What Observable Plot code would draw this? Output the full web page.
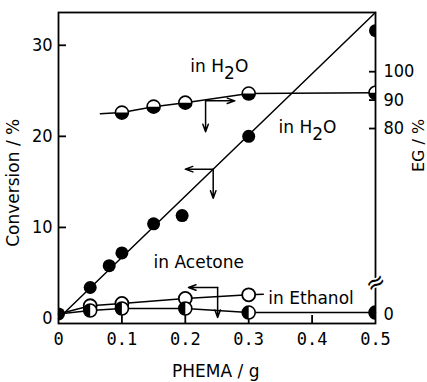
<!DOCTYPE html>
<html><head><meta charset="utf-8">
<script src="https://cdn.jsdelivr.net/npm/d3@7"></script>
<script src="https://cdn.jsdelivr.net/npm/@observablehq/plot@0.6"></script>
<style>
body{margin:0;background:#fff;}
</style>
</head><body><div id="chart"></div>
<script>
// ---- data ----
const xTicks = [0, 0.1, 0.2, 0.3, 0.4, 0.5];
const convTicks = [0, 10, 20, 30];
const egTicks = [0, 80, 90, 100];

// Conversion in H2O (filled circles)
const phemaH2O = [0, 0.05, 0.08, 0.1, 0.15, 0.195, 0.3, 0.5];
const convH2O  = [0.5, 3.4, 5.8, 7.2, 10.4, 11.3, 20.0, 31.6];
// fitted straight line
const fitPhema = [0, 0.5];
const fitConv  = [0, 33.6];

// EG in H2O (top-open / bottom-filled circles), right axis
const phemaEG = [0.1, 0.15, 0.2, 0.3, 0.5];
const egH2O   = [85.6, 87.7, 89.1, 92.3, 92.6];
const egLinePhema = [0.066, 0.1, 0.15, 0.2, 0.3, 0.5];
const egLineValue = [85.2, 85.6, 87.7, 89.1, 92.3, 92.6];

// Conversion in Ethanol (open circles)
const phemaEtOH = [0.05, 0.1, 0.2, 0.3];
const convEtOH  = [1.4, 1.65, 2.2, 2.6];
const etohLinePhema = [0, 0.05, 0.1, 0.2, 0.3, 0.323];
const etohLineConv  = [0.5, 1.4, 1.65, 2.2, 2.6, 2.65];

// Conversion in Acetone (left-filled circles)
const phemaAc = [0.05, 0.1, 0.2, 0.3, 0.5];
const convAc  = [0.88, 1.1, 1.1, 0.65, 0.65];
const acLinePhema = [0, 0.05, 0.1, 0.2, 0.3, 0.5];
const acLineConv  = [0.5, 0.88, 1.1, 1.1, 0.65, 0.65];

// curve labels
const labelText  = ["in H2O", "in H2O", "in Acetone", "in Ethanol"];
const labelPhema = [0.208, 0.347, 0.150, 0.331];
const labelConv  = [27.7, 21.0, 6.15, 2.2];

// axis indicator arrows (corner -> tip)
const arrowX1 = [0.232, 0.232, 0.244, 0.244, 0.251, 0.251];
const arrowY1 = [23.9, 23.9, 16.4, 16.4, 3.4, 3.4];
const arrowX2 = [0.278, 0.232, 0.200, 0.244, 0.205, 0.251];
const arrowY2 = [23.9, 20.5, 16.4, 13.2, 3.4, 0.1];

// axis titles
const titleText  = ["Conversion / %", "EG / %", "PHEMA / g"];
const titlePhema = [-0.071, 0.568, 0.248];
const titleConv  = [14.9, 19.0, -5.8];
const titleRotate = [-90, -90, 0];
const titleSize = [17, 16, 17];

// broken right axis: EG value -> position on conversion scale
function egToY(v) { return v < 50 ? 0.5 + v * 0.01 : 20.86 + (v - 80) * 0.312; }
const egLabel = new Map(egTicks.map(v => [egToY(v), String(v)]));

// ---- tables ----
const zip = (xs, ys) => xs.map((x, i) => ({x, y: ys[i]}));
const dH2O = zip(phemaH2O, convH2O);
const dFit = zip(fitPhema, fitConv);
const dEG = phemaEG.map((x, i) => ({x, y: egToY(egH2O[i])}));
const dEGLine = egLinePhema.map((x, i) => ({x, y: egToY(egLineValue[i])}));
const dEt = zip(phemaEtOH, convEtOH);
const dEtLine = zip(etohLinePhema, etohLineConv);
const dAc = zip(phemaAc, convAc);
const dAcLine = zip(acLinePhema, acLineConv);
const dLabels = labelText.map((t, i) => ({t, x: labelPhema[i], y: labelConv[i]}));
const dArrows = arrowX1.map((x1, i) => ({x1, y1: arrowY1[i], x2: arrowX2[i], y2: arrowY2[i]}));
const dTitles = titleText.map((t, i) => ({t, x: titlePhema[i], y: titleConv[i], r: titleRotate[i], s: titleSize[i]}));

// half-disc symbols
const halfBottom = {draw(ctx, size) { const r = Math.sqrt(size / Math.PI); ctx.moveTo(r, 0); ctx.arc(0, 0, r, 0, Math.PI); ctx.closePath(); }};
const halfLeft = {draw(ctx, size) { const r = Math.sqrt(size / Math.PI); ctx.moveTo(0, -r); ctx.arc(0, 0, r, -Math.PI / 2, Math.PI / 2, true); ctx.closePath(); }};

const R = 6.5;
const numFont = "Liberation Sans Narrow, DejaVu Sans Condensed, sans-serif";
const X0 = 0, X1 = 0.5, Y0 = -0.55, Y1 = 33.6;
const tickLenX = 0.88;   // inward x-tick length (conversion units)
const tickLenY = 0.0126; // inward left-tick length (PHEMA units)
const tickLenR = 0.0095; // inward right-tick length

const chart = Plot.plot({
  width: 427, height: 382,
  marginLeft: 58, marginRight: 52, marginTop: 12, marginBottom: 59,
  x: {domain: [X0, X1]},
  y: {domain: [Y0, Y1]},
  style: {fontFamily: "DejaVu Sans, sans-serif", fontSize: "17px", background: "white", color: "black"},
  marks: [
    Plot.axisX(xTicks, {label: null, tickSize: 0, tickPadding: 9, fontFamily: "DejaVu Sans Mono, monospace", fontSize: 17, tickFormat: d => d === 0 ? "0" : d.toFixed(1)}),
    Plot.axisY(convTicks, {anchor: "left", label: null, tickSize: 0, tickPadding: 6, fontFamily: numFont, fontSize: 18}),
    Plot.axisY(egTicks.map(egToY), {anchor: "right", label: null, tickSize: 0, tickPadding: 8, fontFamily: numFont, fontSize: 18, tickFormat: d => egLabel.get(d)}),
    // inward tick marks
    Plot.ruleX(xTicks.slice(1, -1), {x: d => d, y1: Y0, y2: Y0 + tickLenX, strokeWidth: 1.8}),
    Plot.ruleY(convTicks.slice(1), {y: d => d, x1: X0, x2: X0 + tickLenY, strokeWidth: 1.8}),
    Plot.ruleY(egTicks.slice(1).map(egToY), {y: d => d, x1: X1 - tickLenR, x2: X1, strokeWidth: 1.8}),
    Plot.frame({strokeWidth: 1.8}),
    // lines
    Plot.line(dFit, {x: "x", y: "y", strokeWidth: 1.5}),
    Plot.line(dEGLine, {x: "x", y: "y", strokeWidth: 1.5}),
    Plot.line(dEtLine, {x: "x", y: "y", strokeWidth: 1.5}),
    Plot.line(dAcLine, {x: "x", y: "y", strokeWidth: 1.5}),
    // points
    Plot.dot(dH2O, {x: "x", y: "y", r: R, fill: "black", clip: true}),
    Plot.dot(dEG, {x: "x", y: "y", r: R, fill: "white", stroke: "black", strokeWidth: 1.6, clip: true}),
    Plot.dot(dEG, {x: "x", y: "y", r: R, symbol: halfBottom, fill: "black", clip: true}),
    Plot.dot(dEt, {x: "x", y: "y", r: R, fill: "white", stroke: "black", strokeWidth: 1.8, clip: true}),
    Plot.dot(dAc, {x: "x", y: "y", r: R, fill: "white", stroke: "black", strokeWidth: 1.6, clip: true}),
    Plot.dot(dAc, {x: "x", y: "y", r: R, symbol: halfLeft, fill: "black", clip: true}),
    // indicator arrows
    Plot.arrow(dArrows, {x1: "x1", y1: "y1", x2: "x2", y2: "y2", strokeWidth: 1.5, headLength: 8, headAngle: 40}),
    // curve labels
    Plot.text(dLabels, {x: "x", y: "y", text: "t", textAnchor: "start", fontSize: 17}),
    // axis titles
    Plot.text(dTitles, {x: "x", y: "y", text: "t", rotate: "r", fontSize: "s"}),
    // axis break mark
    Plot.text(["≈"], {x: 0.5, y: 3.95, text: d => d, fontSize: 24, rotate: -30, stroke: "white", strokeWidth: 3, fill: "black"})
  ]
});

// subscripts for H2O
d3.select(chart).selectAll("text").each(function() {
  const el = this;
  if (el.childNodes.length === 1 && el.textContent === "in H2O") {
    el.textContent = "";
    const s = d3.select(el);
    s.append("tspan").text("in H");
    s.append("tspan").attr("dy", "0.45em").text("2");
    s.append("tspan").attr("dy", "-0.45em").text("O");
  }
});

document.getElementById("chart").appendChild(chart);
</script>
</body></html>
